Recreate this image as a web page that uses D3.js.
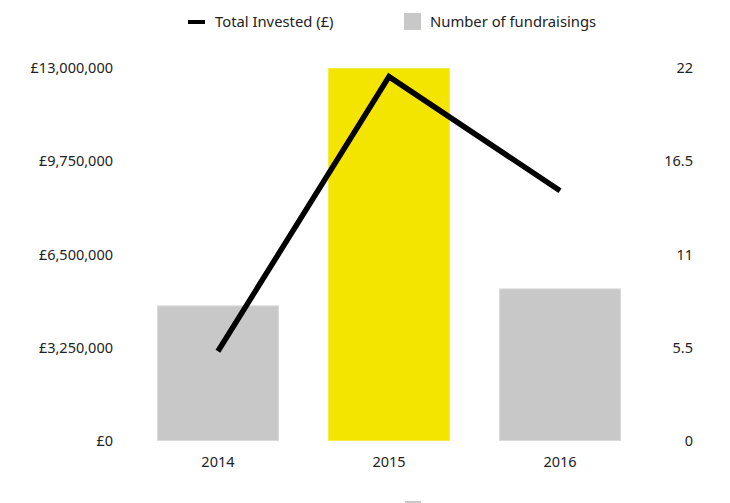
<!DOCTYPE html>
<html>
<head>
	<meta charset="utf-8" />
	<title>Fundraisings</title>
	<script src="https://cdn.jsdelivr.net/npm/d3@7"></script>
	<style>
		body { margin: 0; background: #fff; }
		text { font-family: "Noto Sans", sans-serif; fill: #222; }
	</style>
</head>
<body>

<script>
var years = ["2014", "2015", "2016"];
var invested = [3130000, 12700000, 8720000];
var fundraisings = [8, 22, 9];
var leftTicks = [0, 3250000, 6500000, 9750000, 13000000];
var rightTicks = [0, 5.5, 11, 16.5, 22];
var barColors = ["#c8c8c8", "#f3e500", "#c8c8c8"];
var barBorders = ["#dadada", "#f7ec40", "#dadada"];

var width = 730, height = 503;

var svg = d3.select("body").append("svg")
	.attr("width", width)
	.attr("height", height);

var x = d3.scaleBand()
	.domain(years)
	.range([132.5, 645.5])
	.paddingInner(0.287)
	.paddingOuter(0.143);

var yLeft = d3.scaleLinear().domain([0, 13000000]).range([441, 68]);
var yRight = d3.scaleLinear().domain([0, 22]).range([441, 68]);

// bars
svg.selectAll("rect.bar")
	.data(years)
	.enter()
	.append("rect")
	.attr("class", "bar")
	.attr("x", function(d){ return x(d) + 0.5; })
	.attr("y", function(d, i){ return yRight(fundraisings[i]) + 0.5; })
	.attr("width", x.bandwidth() - 1)
	.attr("height", function(d, i){ return yRight(0) - yRight(fundraisings[i]) - 1; })
	.attr("fill", function(d, i){ return barColors[i]; })
	.attr("stroke", function(d, i){ return barBorders[i]; })
	.attr("stroke-width", 1);

// line
var line = d3.line()
	.x(function(d, i){ return x(years[i]) + x.bandwidth() / 2; })
	.y(function(d){ return yLeft(d); });

svg.append("path")
	.datum(invested)
	.attr("d", line)
	.attr("fill", "none")
	.attr("stroke", "#000")
	.attr("stroke-width", 5.5)
	.attr("stroke-linejoin", "miter");

// axes
var fmt = d3.format(",");

var leftAxis = svg.append("g")
	.attr("transform", "translate(113,0)")
	.call(d3.axisLeft(yLeft).tickValues(leftTicks)
		.tickFormat(function(d){ return "£" + fmt(d); })
		.tickSize(0).tickPadding(0));

var rightAxis = svg.append("g")
	.attr("transform", "translate(693,0)")
	.call(d3.axisLeft(yRight).tickValues(rightTicks)
		.tickFormat(function(d){ return String(d); })
		.tickSize(0).tickPadding(0));

var bottomAxis = svg.append("g")
	.attr("transform", "translate(0,451)")
	.call(d3.axisBottom(x).tickSize(0).tickPadding(6));

[leftAxis, rightAxis, bottomAxis].forEach(function(g){
	g.select(".domain").remove();
	g.selectAll("text")
		.attr("fill", "#222")
		.style("font-family", "'Noto Sans', sans-serif")
		.style("font-size", "14.5px");
});

// legend
var legend = svg.append("g");
legend.append("line")
	.attr("x1", 188).attr("x2", 205)
	.attr("y1", 22).attr("y2", 22)
	.attr("stroke", "#000")
	.attr("stroke-width", 4);
legend.append("text")
	.attr("x", 215).attr("y", 22)
	.attr("dy", "0.35em")
	.style("font-size", "14.8px")
	.text("Total Invested (£)");
legend.append("rect")
	.attr("x", 404).attr("y", 13)
	.attr("width", 17).attr("height", 17)
	.attr("fill", "#c8c8c8");
legend.append("text")
	.attr("x", 430).attr("y", 22)
	.attr("dy", "0.35em")
	.style("font-size", "14.8px")
	.text("Number of fundraisings");

// clipped swatch at the bottom edge
svg.append("rect")
	.attr("x", 405).attr("y", 501)
	.attr("width", 16).attr("height", 4)
	.attr("fill", "#c8c8c8");
</script>
</body>
</html>
